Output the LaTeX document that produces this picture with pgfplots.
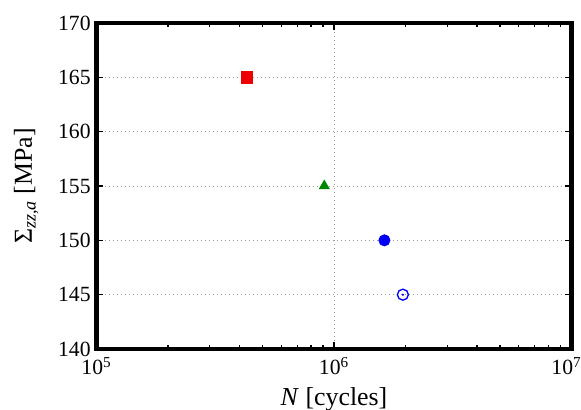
\documentclass[border=0pt]{standalone}
\usepackage{fontspec}
\setmainfont{Liberation Serif}
\usepackage{pgfplots}
\pgfplotsset{compat=1.18}
\definecolor{myred}{RGB}{238,0,0}
\definecolor{mygreen}{RGB}{0,135,0}
\definecolor{myblue}{RGB}{0,0,245}
\begin{document}
\begin{tikzpicture}
\useasboundingbox (-57.9pt,-36.6pt) rectangle (290.7pt,209.4pt);
\begin{axis}[
  at={(0,0)}, anchor=south west,
  scale only axis,
  width=285pt, height=195.6pt,
  xmode=log,
  xmin=1e5, xmax=1e7,
  ymin=140, ymax=170,
  ytick={140,145,...,170},
  yticklabels={140,145,150,155,160,165,170},
  xtick={1e5,1e6,1e7},
  xticklabels={10\textsuperscript{5},10\textsuperscript{6},\hspace*{-6pt}10\textsuperscript{7}},
  tick label style={font=\fontsize{13}{15}\selectfont},
  xticklabel style={yshift=-1.5pt},
  label style={font=\fontsize{15.5}{18}\selectfont},
  xlabel={\textit{N} [cycles]},
  ylabel={Σ\textsubscript{\textit{zz,a}} [MPa]},
  xlabel style={at={(axis description cs:0.5,-0.153)}, anchor=center},
  ylabel style={at={(axis description cs:-0.148,0.5)}, anchor=center},
  axis line style={draw=none},
  every tick/.style={black, line width=0.8pt},
  major tick length=4pt,
  minor tick length=2.2pt,
  tick align=inside,
  xmajorgrids, ymajorgrids,
  major grid style={gray!75, dotted, line width=0.5pt},
  clip=false,
]
\addplot[only marks, mark=square*, mark size=3.5pt, color=myred, mark options={fill=myred, draw=none}] coordinates {(4.3e5,165)};
\addplot[only marks, mark=triangle*, mark size=3.5pt, color=mygreen, mark options={fill=mygreen, draw=none}] coordinates {(9.1e5,155)};
\addplot[only marks, mark=*, mark size=3.4pt, color=myblue, mark options={fill=myblue, draw=none}] coordinates {(1.63e6,150)};
\addplot[only marks, mark=o, mark size=3.3pt, color=myblue, mark options={line width=0.8pt}] coordinates {(1.95e6,145)};
\addplot[only marks, mark=*, mark size=0.45pt, color=myblue, mark options={draw=none, fill=myblue}] coordinates {(1.95e6,145)};
\draw[black, line width=2.5pt, line join=miter] (rel axis cs:0,0) -- (rel axis cs:1,0) -- (rel axis cs:1,1) -- (rel axis cs:0,1) -- cycle;
\end{axis}
\end{tikzpicture}
\end{document}
